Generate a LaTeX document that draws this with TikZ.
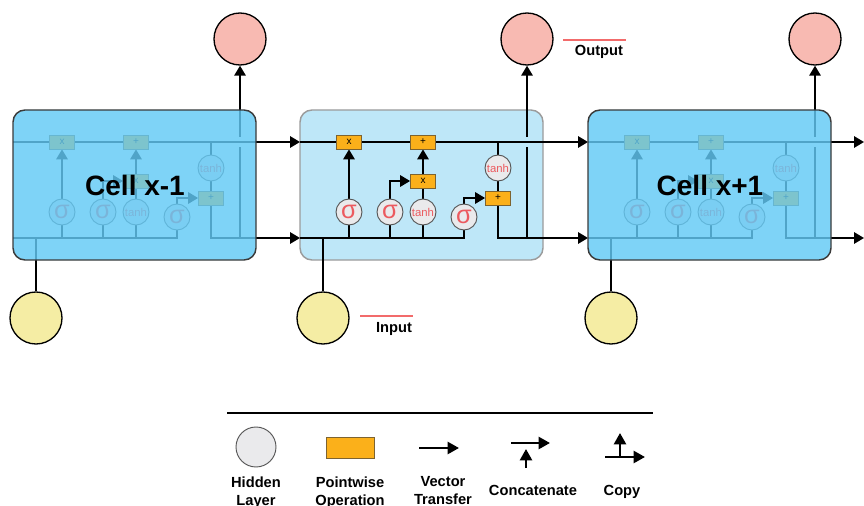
\documentclass[tikz,border=0pt]{standalone}
\usepackage{fontspec}
\setmainfont{Liberation Sans}
\usetikzlibrary{arrows.meta}
\pgfdeclarelayer{boxes}
\pgfdeclarelayer{wires}
\pgfdeclarelayer{cover}
\pgfdeclarelayer{toplayer}
\pgfsetlayers{boxes,wires,main,cover,toplayer}

\definecolor{sidefill}{HTML}{62C9F5}
\definecolor{sidedraw}{HTML}{3A3A3A}
\definecolor{midfill}{HTML}{BEE7F8}
\definecolor{middraw}{HTML}{9B9B9B}
\definecolor{opfill}{HTML}{FBB01A}
\definecolor{opdraw}{HTML}{7D6330}
\definecolor{hidfill}{HTML}{EAEAEC}
\definecolor{hiddraw}{HTML}{555555}
\definecolor{sigred}{HTML}{EC5A5F}
\definecolor{outfill}{HTML}{F8BAB2}
\definecolor{infill}{HTML}{F5EDA4}
\definecolor{lblred}{HTML}{F26B6B}

\tikzset{
  wire/.style={line width=1.5pt, black},
  arr/.style={wire, -{Triangle[length=7.5pt,width=8.5pt]}},
  larr/.style={line width=1.8pt, black, -{Triangle[length=8.5pt,width=9pt]}},
  op/.style={draw=opdraw, fill=opfill, line width=0.6pt, minimum width=18.75pt,
    minimum height=10.5pt, inner sep=0pt, font=\fontsize{7.5}{8}\selectfont},
  hid/.style={circle, draw=hiddraw, fill=hidfill, line width=0.7pt,
    minimum size=19.5pt, inner sep=0pt, text=sigred},
  sig/.style={hid, font=\fontsize{19}{19}\selectfont},
  tnh/.style={hid, font=\fontsize{8.5}{9}\selectfont},
  outc/.style={circle, draw=black, fill=outfill, line width=1pt, minimum size=39pt, inner sep=0pt},
  inc/.style={circle, draw=black, fill=infill, line width=1pt, minimum size=39pt, inner sep=0pt},
  sidebox/.style={rectangle, rounded corners=9pt, draw=sidedraw, line width=1.1pt,
    fill=sidefill, fill opacity=0.82, minimum width=182.25pt, minimum height=112.5pt},
  midbox/.style={rectangle, rounded corners=9pt, draw=middraw, line width=1.1pt,
    fill=midfill, minimum width=182.25pt, minimum height=112.5pt},
  celltxt/.style={font=\bfseries\fontsize{21}{21}\selectfont},
  lbl/.style={font=\bfseries\fontsize{11}{13.5}\selectfont, align=center, inner sep=0pt},
  redline/.style={draw=lblred, line width=1.3pt},
}

\newcommand\lstmcell[2]{%
  \begin{pgfonlayer}{#2}
    \node[#1] (box) at (421.5,185) {};
  \end{pgfonlayer}
  \coordinate (ctl) at (300,142);
  \coordinate (ctr) at (543,142);
  \coordinate (hl) at (300,238);
  \coordinate (hr) at (543,238);
  \coordinate (ob) at (527,238);
  \coordinate (ga) at (527,147);
  \coordinate (gb) at (527,137);
  \coordinate (ib) at (323,238);
  \node[op] (x1) at (349,142) {x};
  \node[op] (p1) at (423,142) {+};
  \node[op] (x2) at (423,181) {x};
  \node[op] (p2) at (498,198) {+};
  \node[sig] (s1) at (349,212) {σ};
  \node[sig] (s2) at (390,212) {σ};
  \node[tnh] (t1) at (423,212) {tanh};
  \node[sig] (s3) at (464,217) {σ};
  \node[tnh] (t2) at (498,168) {tanh};
  \node[outc] (o) at (527,39) {};
  \node[inc] (i) at (323,318) {};
  \begin{pgfonlayer}{wires}
    \draw[wire] (ctl) -- (ctr);
    \draw[wire] (hl) -| (s3.south);
    \draw[wire] (s1.south) -- (s1 |- hl);
    \draw[wire] (s2.south) -- (s2 |- hl);
    \draw[wire] (t1.south) -- (t1 |- hl);
    \draw[arr] (s1.north) -- (x1.south);
    \draw[arr] (s2.north) |- (x2.west);
    \draw[wire] (t1.north) -- (x2.south);
    \draw[arr] (x2.north) -- (p1.south);
    \draw[arr] (s3.north) |- (p2.west);
    \draw[wire] (p1 -| t2) -- (t2.north);
    \draw[wire] (t2.south) -- (p2.north);
    \draw[wire] (p2.south) |- (hr);
    \draw[wire] (ob) -- (ga);
    \draw[arr] (gb) -- (o.south);
    \draw[wire] (ib) -- (i.north);
  \end{pgfonlayer}
}

\begin{document}
\begin{tikzpicture}[x=0.75pt,y=-0.75pt]
\useasboundingbox (0,0) rectangle (864,506);

\begin{scope}[shift={(-287,0)}, name prefix=L-]
  \lstmcell{sidebox}{cover}
\end{scope}
\begin{scope}[name prefix=M-]
  \lstmcell{midbox}{boxes}
\end{scope}
\begin{scope}[shift={(288,0)}, name prefix=R-]
  \lstmcell{sidebox}{cover}
\end{scope}

\begin{pgfonlayer}{toplayer}
  \node[celltxt] (lcell) at (135,185) {Cell x-1};
  \node[celltxt] (rcell) at (710,185) {Cell x+1};
\end{pgfonlayer}

% connections between cells
\coordinate (endtop) at (864,142);
\coordinate (endbot) at (864,238);
\draw[arr] (L-ctr) -- (M-ctl);
\draw[arr] (L-hr) -- (M-hl);
\draw[arr] (M-ctr) -- (R-ctl);
\draw[arr] (M-hr) -- (R-hl);
\draw[arr] (R-ctr) -- (endtop);
\draw[arr] (R-hr) -- (endbot);

% output / input labels
\coordinate (ola) at (563,40);
\coordinate (olb) at (626,40);
\draw[redline] (ola) -- (olb);
\node[lbl, anchor=base] (outlbl) at (599,56) {Output};
\coordinate (ila) at (360,316);
\coordinate (ilb) at (413,316);
\draw[redline] (ila) -- (ilb);
\node[lbl, anchor=base] (inlbl) at (394,332) {Input};

% legend
\coordinate (lga) at (227,413);
\coordinate (lgb) at (653,413);
\draw[line width=2.2pt] (lga) -- (lgb);
\node[hid, minimum size=30pt, draw=hiddraw] (lhid) at (256,447) {};
\node[op, minimum width=36pt, minimum height=15.75pt] (lop) at (350,447.5) {};
\coordinate (va) at (419,448);
\coordinate (vb) at (459,448);
\draw[larr] (va) -- (vb);
\coordinate (ca) at (511,443);
\coordinate (cb) at (550,443);
\coordinate (cc) at (526,468);
\coordinate (cd) at (526,449);
\draw[larr] (ca) -- (cb);
\draw[larr] (cc) -- (cd);
\coordinate (pa) at (605,457);
\coordinate (pb) at (645,457);
\coordinate (pc) at (620,457);
\coordinate (pd) at (620,433);
\draw[larr] (pa) -- (pb);
\draw[larr] (pc) -- (pd);

\node[lbl, anchor=north] (thid) at (256,476.5) {Hidden\\Layer};
\node[lbl, anchor=north] (top) at (350,476.5) {Pointwise\\Operation};
\node[lbl, anchor=north] (tvec) at (443,476.5) {Vector\\Transfer};
\node[lbl, anchor=base] (tcat) at (533,495) {Concatenate};
\node[lbl, anchor=base] (tcopy) at (622,495) {Copy};
\end{tikzpicture}
\end{document}
